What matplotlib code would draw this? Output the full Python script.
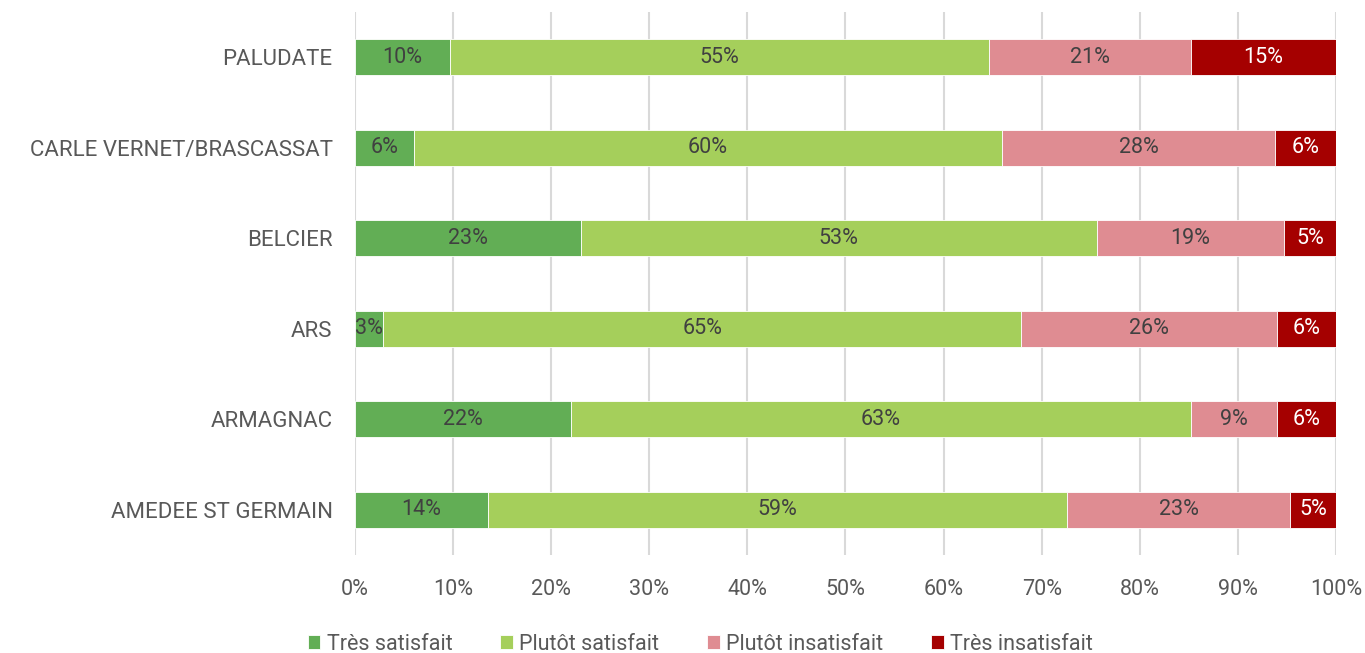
import matplotlib.pyplot as plt
import numpy as np
from matplotlib.ticker import PercentFormatter

plt.rcParams['font.family'] = ['Roboto', 'DejaVu Sans']

# Sites (top to bottom as shown) and shares per answer, in %
sites = ["PALUDATE", "CARLE VERNET/BRASCASSAT", "BELCIER", "ARS", "ARMAGNAC", "AMEDEE ST GERMAIN"]
tres_satisfait = [9.7, 6.0, 23.0, 2.9, 22.0, 13.6]
plutot_satisfait = [54.9, 60.0, 52.6, 65.0, 63.2, 59.0]
plutot_insatisfait = [20.6, 27.8, 19.1, 26.1, 8.8, 22.7]
tres_insatisfait = [14.8, 6.2, 5.3, 6.0, 6.0, 4.7]

series = [
    ("Très satisfait", tres_satisfait, "#62AE55", "#404040"),
    ("Plutôt satisfait", plutot_satisfait, "#A5CF5B", "#404040"),
    ("Plutôt insatisfait", plutot_insatisfait, "#DF8C92", "#404040"),
    ("Très insatisfait", tres_insatisfait, "#A50000", "white"),
]

fig, ax = plt.subplots(figsize=(13.65, 6.53), dpi=100)
plt.subplots_adjust(left=0.26, right=0.9788, top=0.9816, bottom=0.150)

y = np.arange(len(sites))
left = np.zeros(len(sites))
for label, vals, color, txt_color in series:
    vals = np.array(vals)
    bars = ax.barh(y, vals, left=left, height=0.4, color=color, edgecolor="white",
                   linewidth=0.6, label=label, zorder=3)
    ax.bar_label(bars, labels=[f"{v:.0f}%" for v in vals], label_type="center",
                 color=txt_color, fontsize=15.5)
    left += vals

ax.set_ylim(len(sites) - 0.5, -0.5)
ax.set_xlim(0, 100)
ax.set_yticks(y)
ax.set_yticklabels(sites, fontsize=16, color="#595959")
ax.set_xticks(np.arange(0, 101, 10))
ax.xaxis.set_major_formatter(PercentFormatter(decimals=0))
ax.tick_params(axis="x", labelsize=15.5, labelcolor="#595959", length=0, pad=17)
ax.tick_params(axis="y", length=0, pad=16)
ax.grid(axis="x", color="#D9D9D9", linewidth=1.5, zorder=0)
for s in ax.spines.values():
    s.set_visible(False)

fig.legend(loc="lower center", bbox_to_anchor=(0.513, -0.032), ncol=4, frameon=False,
           fontsize=15.5, handlelength=0.6, handleheight=0.6, handletextpad=0.3,
           columnspacing=2.2, labelcolor="#595959")

fig.savefig("out.png", dpi=100)
